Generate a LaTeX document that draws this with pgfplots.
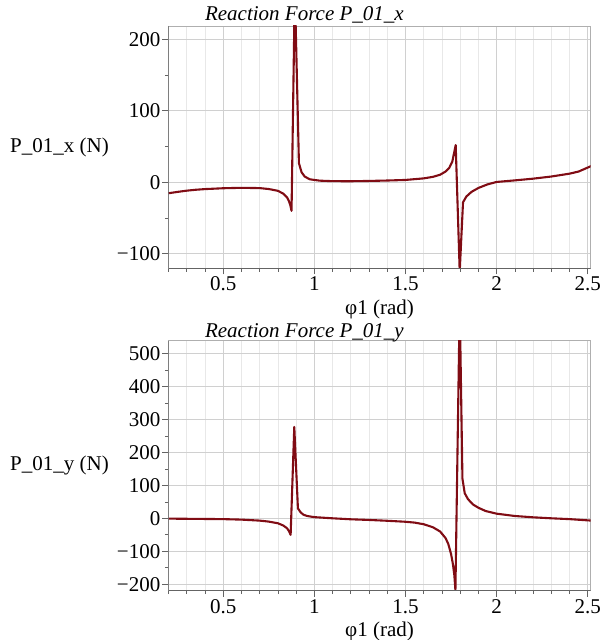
\documentclass[border=0pt]{standalone}
\usepackage{pgfplots}
\pgfplotsset{compat=1.18}
\usepackage{fontspec}
\setmainfont{Liberation Serif}
\definecolor{curve}{RGB}{128,12,20}
\definecolor{gridmaj}{RGB}{208,208,208}
\definecolor{gridmin}{RGB}{232,232,232}
\definecolor{frame}{RGB}{175,175,175}
\definecolor{axisdark}{RGB}{100,100,100}
\newcommand{\lblfont}{\fontsize{21}{21}\selectfont}
\pgfplotsset{
  mystyle/.style={
    scale only axis, width=422pt,
    xmin=0.2, xmax=2.515,
    xtick={0.5,1,1.5,2,2.5}, xticklabels={0.5,1,1.5,2,2.5},
    minor xtick={0.2,0.3,0.4,0.6,0.7,0.8,0.9,1.1,1.2,1.3,1.4,1.6,1.7,1.8,1.9,2.1,2.2,2.3,2.4},
    xmajorgrids=true, xminorgrids=true, ymajorgrids=true, yminorgrids=false,
    major grid style={gridmaj, line width=0.6pt},
    minor grid style={gridmin, line width=0.6pt},
    axis line style={frame, line width=0.6pt},
    tick align=outside, xtick pos=bottom, ytick pos=left,
    major tick length=6pt, minor tick length=3.5pt,
    tick style={axisdark, line width=0.6pt},
    minor y tick num=1,
    tick label style={font=\lblfont, inner sep=2pt},
    xticklabel style={yshift=-0.5pt},
    every axis x label/.style={at={(axis description cs:0.5,0)}, anchor=base, yshift=-46pt, inner sep=0pt, font=\lblfont},
    every axis y label/.style={at={(axis description cs:-0.3756,0.5)}, anchor=west, inner sep=0pt, font=\lblfont},
    xlabel={φ1 (rad)},
    every axis title shift=0pt,
    title style={font=\lblfont\itshape, anchor=base},
    clip=true,
  }
}
\begin{document}
\begin{tikzpicture}[x=1pt,y=1pt]
\useasboundingbox (0,0) rectangle (604,640);
\begin{axis}[mystyle,
  at={(168.5pt,371.7pt)}, anchor=south west, height=242.3pt,
  ymin=-120.4, ymax=218.6,
  ytick={-100,0,100,200}, yticklabels={−100,0,100,200},
  ylabel={P\_01\_x (N)},
  title={Reaction Force P\_01\_x},
  title style={at={(axis description cs:0.322,1)}, yshift=5.3pt},
]
\addplot[curve, line width=2.1pt, line join=round] coordinates {
(0.2,-15.4) (0.25,-13.5) (0.3,-11.8) (0.35,-10.5) (0.4,-9.6) (0.5,-8.4) (0.6,-7.8) (0.7,-8.2) (0.75,-9.5) (0.8,-12) (0.83,-16) (0.85,-21) (0.86,-26) (0.868,-32) (0.875,-40) (0.893,270) (0.9155,26.6) (0.93,14) (0.947,8) (0.974,4.2) (1.0,3.2) (1.03,2.2) (1.1,1.5) (1.2,1.4) (1.3,1.8) (1.4,2.4) (1.5,3.2) (1.6,5.4) (1.65,7.5) (1.69,10.5) (1.72,15) (1.74,20) (1.757,29) (1.7755,52) (1.7975,-125) (1.8157,-28) (1.834,-20) (1.862,-13.5) (1.9,-8) (1.95,-3) (2.0,0.4) (2.1,2.6) (2.2,5) (2.3,8) (2.4,12) (2.45,15) (2.52,22.8)
};
\draw[axisdark, line width=0.7pt] (rel axis cs:0,1) -- (rel axis cs:0,0) -- (rel axis cs:1,0);
\end{axis}
\begin{axis}[mystyle,
  at={(168.5pt,49.3pt)}, anchor=south west, height=250pt,
  ymin=-219.4, ymax=538.2,
  ytick={-200,-100,0,100,200,300,400,500}, yticklabels={−200,−100,0,100,200,300,400,500},
  ylabel={P\_01\_y (N)},
  title={Reaction Force P\_01\_y},
  title style={at={(axis description cs:0.322,1)}, yshift=3.4pt},
]
\addplot[curve, line width=2.1pt, line join=round] coordinates {
(0.2,-1) (0.4,-2) (0.5,-2.5) (0.6,-4) (0.7,-7) (0.75,-10) (0.8,-15) (0.83,-22) (0.85,-30) (0.862,-40) (0.87,-50) (0.89,277) (0.91,30) (0.925,18) (0.94,11) (0.96,7) (1.0,3.5) (1.1,0) (1.2,-3) (1.3,-5) (1.4,-7.5) (1.5,-10.5) (1.55,-13) (1.6,-18) (1.65,-27) (1.69,-40) (1.72,-60) (1.735,-78) (1.75,-108) (1.76,-138) (1.768,-172) (1.774,-218) (1.7975,650) (1.8125,120) (1.825,76) (1.843,58) (1.87,42) (1.9,32) (1.94,22) (2.0,14) (2.1,7) (2.2,3) (2.3,0) (2.4,-2.5) (2.52,-7)
};
\draw[axisdark, line width=0.7pt] (rel axis cs:0,1) -- (rel axis cs:0,0) -- (rel axis cs:1,0);
\end{axis}
\end{tikzpicture}
\end{document}
